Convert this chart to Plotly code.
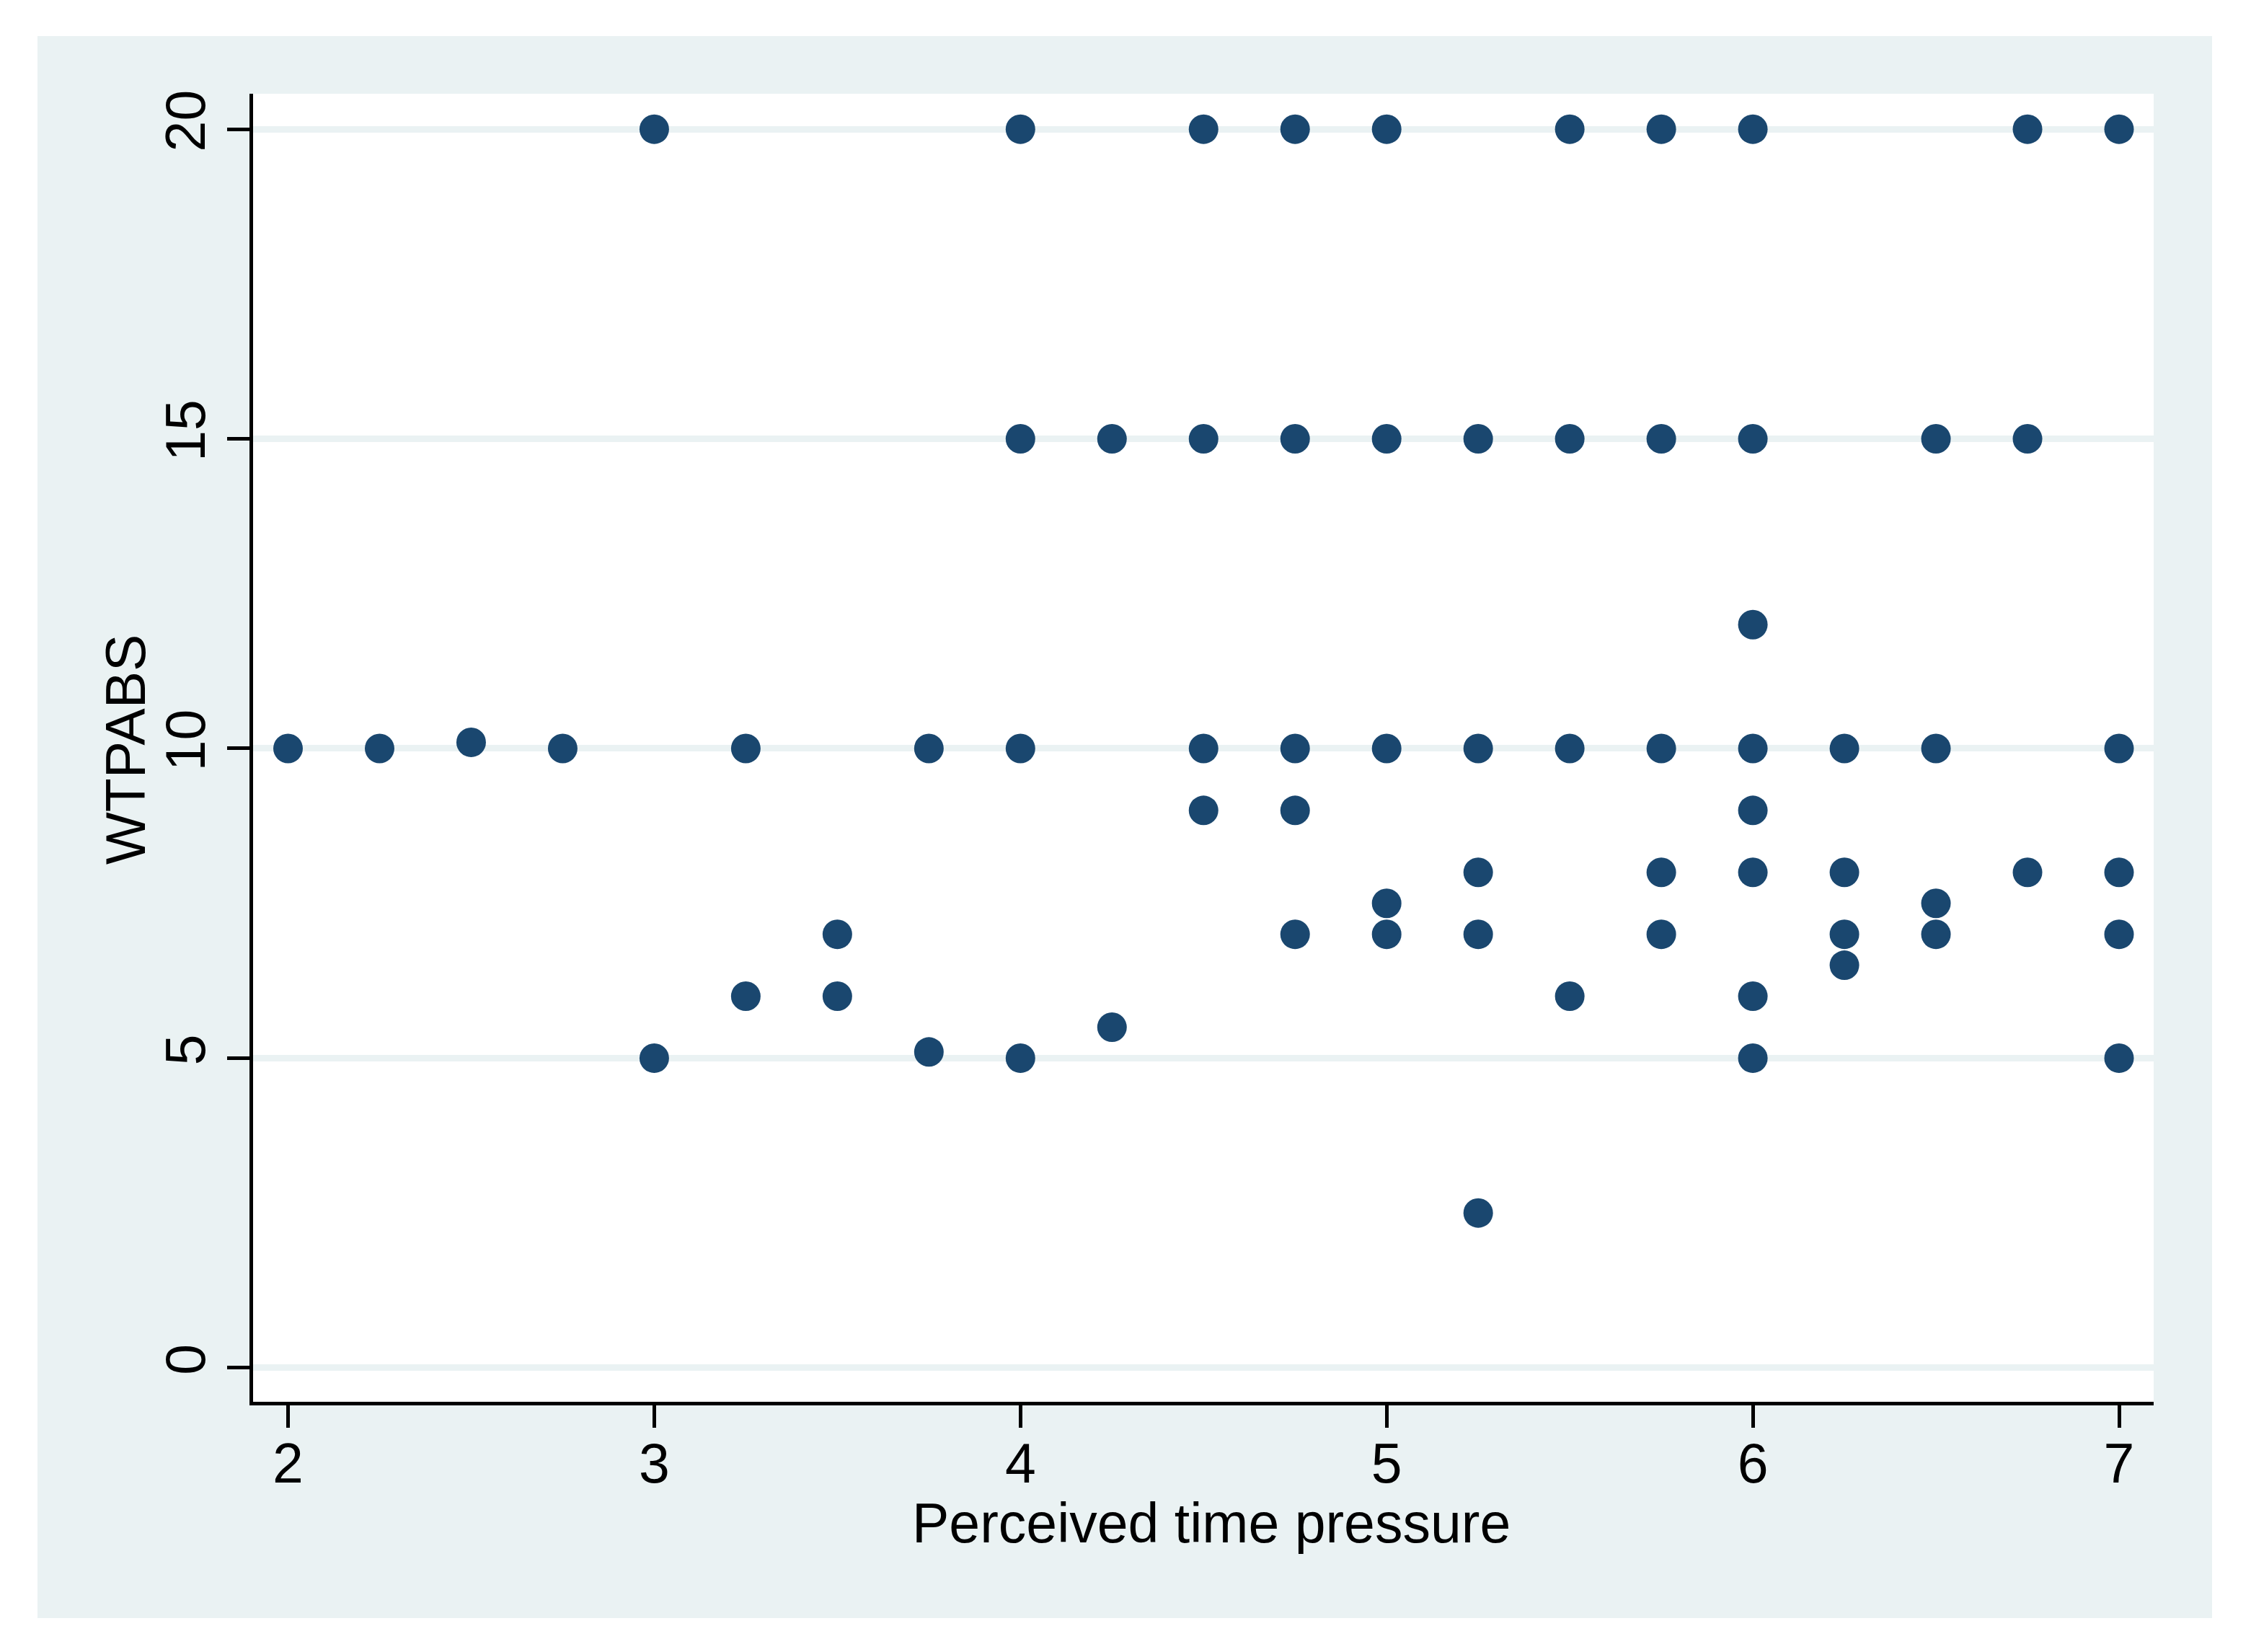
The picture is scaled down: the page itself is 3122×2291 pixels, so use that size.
import plotly.graph_objects as go

# Perceived time pressure (x) and WTPABS (y)
pressure = [3, 4, 4.5, 4.75, 5, 5.5, 5.75, 6, 6.75, 7,
            4, 4.25, 4.5, 4.75, 5, 5.25, 5.5, 5.75, 6, 6.5, 6.75,
            6,
            2, 2.25, 2.5, 2.75, 3.25, 3.75, 4, 4.5, 4.75, 5, 5.25, 5.5, 5.75, 6, 6.25, 6.5, 7,
            4.5, 4.75, 6,
            5.25, 5.75, 6, 6.25, 6.75, 7,
            5, 6.5,
            3.5, 4.75, 5, 5.25, 5.75, 6.25, 6.5, 7,
            6.25,
            3.25, 3.5, 5.5, 6,
            4.25,
            3.75,
            3, 4, 6, 7,
            5.25]
wtpabs = [20, 20, 20, 20, 20, 20, 20, 20, 20, 20,
          15, 15, 15, 15, 15, 15, 15, 15, 15, 15, 15,
          12,
          10, 10, 10.1, 10, 10, 10, 10, 10, 10, 10, 10, 10, 10, 10, 10, 10, 10,
          9, 9, 9,
          8, 8, 8, 8, 8, 8,
          7.5, 7.5,
          7, 7, 7, 7, 7, 7, 7, 7,
          6.5,
          6, 6, 6, 6,
          5.5,
          5.1,
          5, 5, 5, 5,
          2.5]

x_ticks = [2, 3, 4, 5, 6, 7]
y_ticks = [0, 5, 10, 15, 20]
x_title = "Perceived time pressure"
y_title = "WTPABS"

NAVY = "#1A476F"
BG = "#EAF2F3"
FONT = "Liberation Sans, Arial, Helvetica, sans-serif"

OFF = 8  # page body margin of the html page
W, H = 3122 - OFF, 2291 - OFF
# target screen positions of the plot area
SL, SR, ST, SB = 351, 2987, 130, 1944
L, T = SL - OFF, ST - OFF
R = W - (SR - OFF)
B = H - (SB - OFF)
pw, ph = W - L - R, H - T - B

def px2paper_x(p):
    return (p - OFF - L) / pw

def px2paper_y(p):
    return (SB - p) / ph

fig = go.Figure()
fig.add_trace(go.Scatter(
    x=pressure, y=wtpabs, mode="markers",
    marker=dict(size=41, color=NAVY, line=dict(width=0)),
    showlegend=False, hoverinfo="x+y",
))

shapes = [
    dict(type="rect", xref="paper", yref="paper",
         x0=px2paper_x(52), x1=px2paper_x(3068),
         y0=px2paper_y(2244), y1=px2paper_y(50),
         fillcolor=BG, line=dict(width=0), layer="below"),
    dict(type="rect", xref="paper", yref="paper",
         x0=0, x1=1, y0=0, y1=1,
         fillcolor="white", line=dict(width=0), layer="below"),
]

annotations = [
    dict(text=x_title, xref="paper", yref="paper",
         x=px2paper_x(1680), y=px2paper_y(2112),
         xanchor="center", yanchor="middle", showarrow=False, borderpad=0,
         font=dict(family=FONT, size=77, color="black")),
    dict(text=y_title, xref="paper", yref="paper",
         x=px2paper_x(174), y=px2paper_y(1040),
         xanchor="center", yanchor="middle", showarrow=False, textangle=-90,
         borderpad=0,
         font=dict(family=FONT, size=77, color="black")),
]

fig.update_layout(
    width=W, height=H,
    margin=dict(l=L, r=R, t=T, b=B, pad=0),
    paper_bgcolor="white",
    plot_bgcolor="white",
    shapes=shapes,
    annotations=annotations,
    font=dict(family=FONT, size=77, color="black"),
    xaxis=dict(
        range=[1.9045, 7.0945],
        tickvals=x_ticks, ticktext=[str(v) for v in x_ticks],
        showgrid=False, zeroline=False,
        showline=True, linecolor="black", linewidth=5,
        ticks="outside", ticklen=31, tickwidth=5, tickcolor="black",
        ticklabelstandoff=-16,
        tickfont=dict(family=FONT, size=77, color="black"),
        automargin=False,
    ),
    yaxis=dict(
        range=[-0.549, 20.572],
        tickvals=y_ticks, ticktext=[str(v) for v in y_ticks],
        tickangle=-90,
        showgrid=True, gridcolor=BG, gridwidth=9,
        zeroline=False,
        showline=True, linecolor="black", linewidth=5,
        ticks="outside", ticklen=31, tickwidth=5, tickcolor="black",
        tickfont=dict(family=FONT, size=77, color="black"),
        automargin=False,
    ),
)

fig.write_html("out.html")
